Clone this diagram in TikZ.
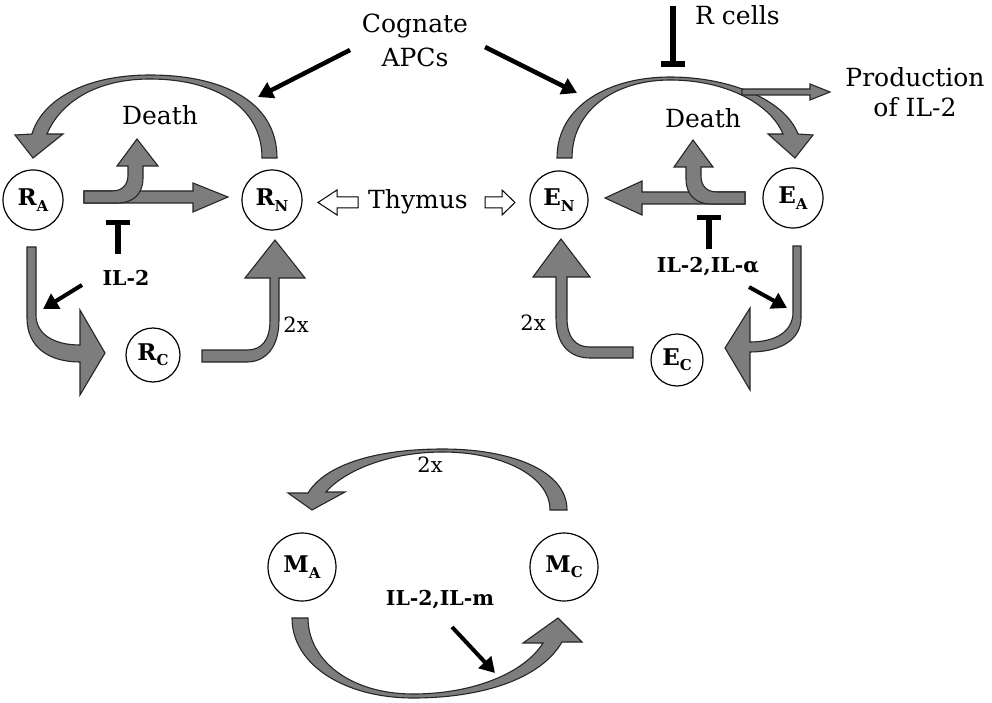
\documentclass[tikz,border=0pt]{standalone}
\usepackage{fontspec}
\setmainfont{DejaVu Serif}
\usetikzlibrary{arrows.meta}
\definecolor{blockgray}{RGB}{125,125,125}
\newcommand{\celllab}[2]{{\bfseries #1\raisebox{-0.45ex}{\fontsize{15}{15}\selectfont #2}}}
\begin{document}
\begin{tikzpicture}[x=1pt,y=-1pt,
 cell/.style={circle,draw,fill=white,line width=1.2pt,minimum size=60pt,inner sep=0pt,font=\fontsize{23}{26}\selectfont},
 lbl/.style={font=\fontsize{25}{30}\selectfont,inner sep=0pt},
 blab/.style={font=\bfseries\fontsize{20.5}{24}\selectfont,inner sep=0pt},
 twox/.style={font=\fontsize{21}{24}\selectfont,inner sep=0pt},
 blk/.style={fill=blockgray,draw=black!85,line width=1.1pt,line join=miter},
 hollow/.style={fill=white,draw=black,line width=1pt,line join=miter},
 stim/.style={line width=4.5pt,-{Triangle[length=15pt,width=17pt]}},
 inhib/.style={line width=5.5pt,-{Bar[width=24pt]}}]
\useasboundingbox (0,0) rectangle (992,703);

% ---------- block arrows: R cycle ----------
\draw[blk] (277,158) .. controls (277,100) and (220,75) .. (150,75)
  .. controls (85,75) and (42,100) .. (32,134) -- (15,135) -- (33,158) -- (63,134) -- (47,134)
  .. controls (60,103) and (95,79) .. (150,79) .. controls (212,79) and (262,105) .. (262,158) -- cycle;
\draw[blk] (27,247) -- (27,318) .. controls (27,348) and (50,362) .. (80,362) -- (80,395) -- (105,353)
  -- (80,310) -- (80,345) .. controls (55,345) and (36,335) .. (36,315) -- (36,247) -- cycle;
\draw[blk] (202,350) -- (247,350) .. controls (262,350) and (270,340) .. (270,320) -- (270,278) -- (245,278)
  -- (275,240) -- (305,278) -- (279,278) -- (279,320) .. controls (279,348) and (265,362) .. (247,362) -- (202,362) -- cycle;
\draw[blk] (84,191) -- (193,191) -- (193,183) -- (228,197) -- (193,212) -- (193,203) -- (84,203) -- cycle;
\draw[blk] (84,191) -- (112,191) .. controls (122,191) and (128,185) .. (128,175) -- (128,166) -- (117,166)
  -- (137,139) -- (158,166) -- (143,166) -- (143,178) .. controls (143,195) and (132,203) .. (118,203) -- (84,203) -- cycle;

% ---------- block arrows: E cycle ----------
\draw[blk] (557,158) .. controls (557,105) and (610,77) .. (670,77) .. controls (730,77) and (785,100) .. (798,134)
  -- (813,135) -- (795,158) -- (768,134) -- (783,134) .. controls (770,103) and (725,80) .. (670,80)
  .. controls (615,80) and (572,110) .. (572,158) -- cycle;
\draw[blk] (742,89) -- (810,89) -- (810,84) -- (830,92) -- (810,100) -- (810,95) -- (742,95) -- cycle;
\draw[blk] (633,347) -- (590,347) .. controls (575,347) and (567,337) .. (567,318) -- (567,277) -- (590,277)
  -- (561,239) -- (533,277) -- (556,277) -- (556,318) .. controls (556,345) and (570,358) .. (590,358) -- (633,358) -- cycle;
\draw[blk] (793,246) -- (801,246) -- (801,318) .. controls (801,340) and (780,352) .. (750,352) -- (750,390)
  -- (725,348) -- (750,308) -- (750,342) .. controls (775,342) and (793,332) .. (793,312) -- cycle;
\draw[blk] (745,192) -- (642,192) -- (642,181) -- (605,198) -- (642,215) -- (642,204) -- (745,204) -- cycle;
\draw[blk] (745,192) -- (717,192) .. controls (707,192) and (701,186) .. (701,176) -- (701,167) -- (713,167)
  -- (693,140) -- (674,167) -- (686,167) -- (686,179) .. controls (686,196) and (697,204) .. (711,204) -- (745,204) -- cycle;

% ---------- block arrows: M cycle ----------
\draw[blk] (567,510) .. controls (567,470) and (510,449) .. (443,449) .. controls (375,449) and (325,465) .. (308,493)
  -- (288,493) -- (312,510) -- (345,492) -- (326,492) .. controls (345,470) and (390,452) .. (443,452)
  .. controls (500,452) and (550,475) .. (550,510) -- cycle;
\draw[blk] (292,618) .. controls (292,665) and (345,698) .. (413,698) .. controls (480,698) and (540,680) .. (562,642)
  -- (582,642) -- (558,618) -- (523,643) -- (543,643) .. controls (525,672) and (475,694) .. (413,694)
  .. controls (350,694) and (308,660) .. (308,618) -- cycle;

% ---------- thymus hollow arrows ----------
\draw[hollow] (358,197) -- (337,197) -- (337,190) -- (318,202.5) -- (337,215) -- (337,208) -- (358,208) -- cycle;
\draw[hollow] (485,197) -- (502,197) -- (502,190) -- (515,202.5) -- (502,215) -- (502,208) -- (485,208) -- cycle;

% ---------- cells ----------
\node[cell] (RA) at (33,200) {\celllab{R}{A}};
\node[cell] (RN) at (272,200) {\celllab{R}{N}};
\node[cell,minimum size=54pt] (RC) at (153,355) {\celllab{R}{C}};
\node[cell,minimum size=58pt] (EN) at (559,200) {\celllab{E}{N}};
\node[cell] (EA) at (793,198) {\celllab{E}{A}};
\node[cell,minimum size=52pt] (EC) at (677,360) {\celllab{E}{C}};
\node[cell,minimum size=68pt] (MA) at (302,567) {\celllab{M}{A}};
\node[cell,minimum size=68pt] (MC) at (564,567) {\celllab{M}{C}};

% ---------- labels ----------
\node[lbl,align=center,font=\fontsize{25}{34}\selectfont] (apc) at (415,40) {Cognate\\APCs};
\node[lbl] (deathR) at (160,115) {Death};
\node[lbl] (deathE) at (703,118) {Death};
\node[lbl] (thymus) at (418,202) {Thymus};
\node[lbl,anchor=west] (rcells) at (695,15) {R cells};
\node[lbl,align=center] (prod) at (915,92) {Production\\of IL-2};
\node[blab] (il2) at (126,278) {IL-2};
\node[blab] (il2a) at (708,267) {IL-2,IL-α};
\node[blab] (il2m) at (440,600) {IL-2,IL-m};
\node[twox] (tx1) at (296,325) {2x};
\node[twox] (tx2) at (533,323) {2x};
\node[twox] (tx3) at (430,465) {2x};

% ---------- stimulation / inhibition ----------
\coordinate (apcL) at (350,50);
\coordinate (arcR) at (258,97);
\coordinate (apcR) at (485,47);
\coordinate (arcE) at (577,93);
\draw[stim] (apcL) -- (arcR);
\draw[stim] (apcR) -- (arcE);
\coordinate (il2s) at (82,285);
\coordinate (il2t) at (43,309);
\draw[stim,line width=4pt] (il2s) -- (il2t);
\coordinate (il2as) at (749,287);
\coordinate (il2at) at (787,308);
\draw[stim,line width=4pt] (il2as) -- (il2at);
\coordinate (il2ms) at (452,627);
\coordinate (il2mt) at (495,673);
\draw[stim,line width=4pt] (il2ms) -- (il2mt);

\coordinate (inhL1) at (118,254);
\coordinate (inhL2) at (118,220);
\draw[inhib] (inhL1) -- (inhL2);
\coordinate (inhE1) at (709,249);
\coordinate (inhE2) at (709,215);
\draw[inhib] (inhE1) -- (inhE2);
\coordinate (rc1) at (673,6);
\coordinate (rc2) at (673,67);
\draw[inhib] (rc1) -- (rc2);
\end{tikzpicture}
\end{document}
